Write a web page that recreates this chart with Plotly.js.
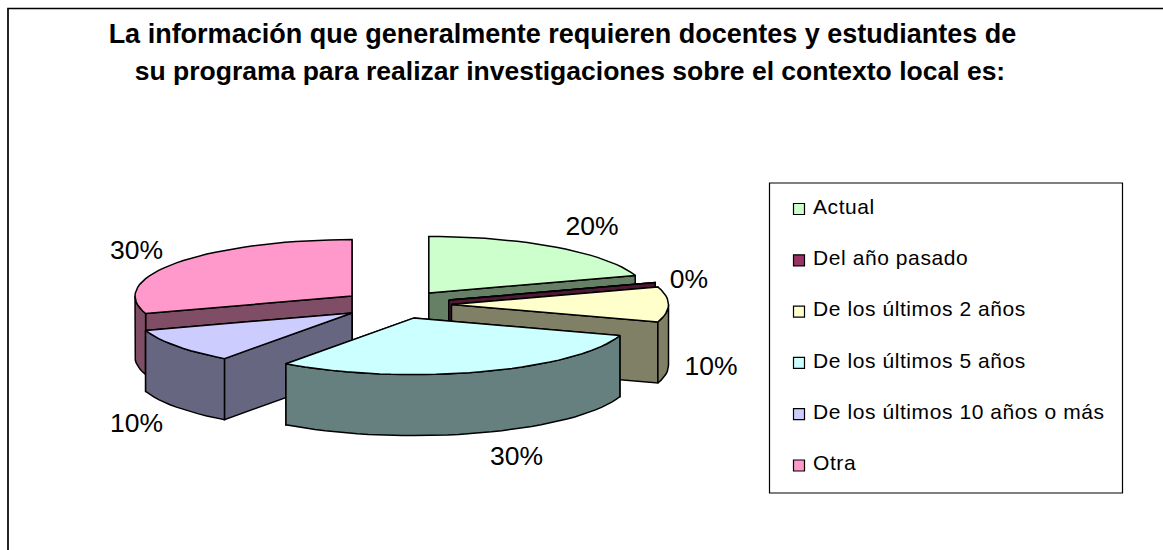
<!DOCTYPE html>
<html><head><meta charset="utf-8">
<script src="https://cdn.plot.ly/plotly-3.0.1.min.js"></script>
<style>html,body{margin:0;padding:0;background:#fff}#c{width:1163px;height:550px}
.legend-text text{letter-spacing:0.58px}</style>
</head><body><div id="c"></div>
<script>
const categories = ["Actual","Del año pasado","De los últimos 2 años","De los últimos 5 años","De los últimos 10 años o más","Otra"];
const values = [20,0,10,30,10,30];
const topColors = ["#CCFFCC","#993366","#FFFFCC","#CCFFFF","#CCCCFF","#FF99CC"];
const sideColors = ["#668066","#4D1A33","#808066","#668080","#666680","#804D66"];
const drawOrder = [0,1,2,5,4,3];
const labelPos = [[592,228],[689,281],[711,368],[516.5,458],[136.5,425],[136.5,252]];
const legendY = [209,260.3,311.6,362.9,414.2,465.5];

const F = "Liberation Sans, Arial, sans-serif";
const cx=396.5, cy=304.5, rx=217, ry=56.5, depth=61, explode=55;
const total = values.reduce((a,b)=>a+b,0);
const rad = d=>d*Math.PI/180;
const traces=[];
function poly(xs,ys,fill){
  traces.push({type:"scatter",mode:"lines",x:xs.concat([xs[0]]),y:ys.concat([ys[0]]),fill:"toself",fillcolor:fill,
    line:{color:"#000",width:1.5,shape:"linear"},hoverinfo:"skip",showlegend:false});
}
let acc=0; const slices=values.map(v=>{const a0=acc/total*360; acc+=v; return [a0,acc/total*360];});
const pt=(ax,ay,a)=>[ax+rx*Math.sin(rad(a)), ay-ry*Math.cos(rad(a))];
drawOrder.forEach(i=>{
  const [a0,a1]=slices[i]; const mid=(a0+a1)/2;
  const ax=cx+explode*Math.sin(rad(mid)), ay=cy-explode*ry/rx*Math.cos(rad(mid));
  const N=Math.max(1,Math.round((a1-a0)/3));
  const arc=[]; for(let k=0;k<=N;k++) arc.push(pt(ax,ay,a0+(a1-a0)*k/N));
  const first=arc[0], last=arc[arc.length-1];
  // cut faces, farther one first
  const ends=[first,last].sort((p,q)=>p[1]-q[1]);
  ends.forEach(e=>poly([ax,e[0],e[0],ax],[ay,e[1],e[1]+depth,ay+depth],sideColors[i]));
  // outer wall: only the front-facing part (angles 90..270)
  const lo=Math.max(a0,90), hi=Math.min(a1,270);
  if(hi>lo){
    const M=Math.max(1,Math.round((hi-lo)/3)); const w=[];
    for(let k=0;k<=M;k++) w.push(pt(ax,ay,lo+(hi-lo)*k/M));
    poly(w.map(p=>p[0]).concat(w.slice().reverse().map(p=>p[0])),
         w.map(p=>p[1]).concat(w.slice().reverse().map(p=>p[1]+depth)),sideColors[i]);
  }
  // top
  poly([ax].concat(arc.map(p=>p[0])),[ay].concat(arc.map(p=>p[1])),topColors[i]);
});
// legend swatches and names
traces.push({type:"scatter",mode:"markers",x:categories.map(()=>799),y:legendY,
  marker:{symbol:"square",size:11,color:topColors,line:{color:"#000",width:1.2}},hoverinfo:"skip",showlegend:false});
traces.push({type:"scatter",mode:"text",x:categories.map(()=>813),y:legendY.map(y=>y-0.5),text:categories,
  textposition:"middle right",textfont:{family:F,size:21,color:"#000"},hoverinfo:"skip",showlegend:false});
const legendTraceIndex=traces.length-1;
// percent labels
traces.push({type:"scatter",mode:"text",x:labelPos.map(p=>p[0]),y:labelPos.map(p=>p[1]),
  text:values.map(v=>Math.round(v/total*100)+"%"),textposition:"middle center",
  textfont:{family:F,size:26.5,color:"#000"},hoverinfo:"skip",showlegend:false});
const layout={
  width:1163,height:550,margin:{l:0,r:0,t:0,b:0},paper_bgcolor:"#fff",plot_bgcolor:"#fff",showlegend:false,
  xaxis:{range:[0,1163],visible:false,fixedrange:true},
  yaxis:{range:[550,0],visible:false,fixedrange:true},
  title:{text:"<b><span style=\"font-size:27px\">La información que generalmente requieren docentes y estudiantes de&nbsp;&nbsp;</span><br><span style=\"font-size:26.5px\">su programa para realizar investigaciones sobre el contexto local es:</span></b>",
    font:{family:F,size:28.8,color:"#000"},x:570/1163,xanchor:"center",xref:"paper",y:0.922,yanchor:"top",yref:"paper"},
  shapes:[
    {type:"rect",xref:"x",yref:"y",x0:8,x1:1175,y0:8.5,y1:565,line:{color:"#000",width:1.7},layer:"below"},
    {type:"rect",xref:"x",yref:"y",x0:769.5,x1:1122.5,y0:183,y1:493,line:{color:"#000",width:1.2},layer:"below"}
  ]
};
Plotly.newPlot("c",traces,layout,{displayModeBar:false,staticPlot:true}).then(gd=>{
  const groups=gd.querySelectorAll(".scatterlayer .trace");
  if(groups[legendTraceIndex]) groups[legendTraceIndex].classList.add("legend-text");
});
</script></body></html>
